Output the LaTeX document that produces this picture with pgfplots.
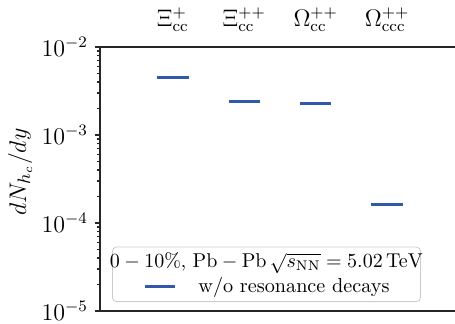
\documentclass[border=0pt]{standalone}
\usepackage{pgfplots}
\pgfplotsset{compat=1.18}
\definecolor{segblue}{RGB}{50,88,168}
\begin{document}
\begin{tikzpicture}
\begin{axis}[
  name=ax, at={(0,0)}, anchor=south west,
  scale only axis, width=177.5pt, height=132pt,
  ymode=log, ymin=1e-5, ymax=1e-2,
  xmin=-1.02, xmax=3.95,
  axis y line*=left,
  axis line style={line width=0.8pt, black!85},
  xtick={0,1,2,3},
  xticklabels={$\Xi_{\mathrm{cc}}^{+}$,$\Xi_{\mathrm{cc}}^{++}$,$\Omega_{\mathrm{cc}}^{++}$,$\Omega_{\mathrm{ccc}}^{++}$},
  xticklabel pos=upper,
  x tick style={draw=none},
  xticklabel style={font=\fontsize{11.5}{13}\selectfont, yshift=1.5pt},
  ytick={1e-5,1e-4,1e-3,1e-2},
  ytick pos=left,
  tick align=outside,
  major tick length=2.5pt, minor tick length=1.5pt,
  y tick style={line width=0.6pt, black!85},
  yticklabel style={font=\fontsize{11.8}{13}\selectfont},
  ylabel={$dN_{h_c}/dy$},
  ylabel style={at={(axis description cs:-0.225,0.527)}, anchor=center, font=\fontsize{13}{15}\selectfont},
  legend style={at={(rel axis cs:0.034,0.034)}, anchor=south west,
    draw=black!20, rounded corners=2pt, fill=white,
    font=\fontsize{10.1}{12}\selectfont, inner xsep=0pt, inner ysep=1.2pt, row sep=0pt,
    column sep=0pt, nodes={inner xsep=1.5pt, inner ysep=1.7pt}},
  legend cell align=left,
  legend image code/.code={\draw[#1, overlay] (16.5pt,0pt) -- (31.5pt,0pt);},
]
\addlegendimage{empty legend}
\addlegendentry{\makebox[151pt][c]{\fontsize{9.6}{11}\selectfont$0-10\%$, $\mathrm{Pb}-\mathrm{Pb}\,\sqrt{s_{\mathrm{NN}}}=5.02\,\mathrm{TeV}$}}
\addplot[segblue, line width=1.5pt] coordinates {(-0.22,4.48e-3) (0.22,4.48e-3)};
\addlegendentry{\makebox[151pt][l]{\hspace*{41.5pt}w/o resonance decays}}
\addplot[segblue, line width=1.5pt, forget plot] coordinates {(0.78,2.41e-3) (1.22,2.41e-3)};
\addplot[segblue, line width=1.5pt, forget plot] coordinates {(1.78,2.27e-3) (2.22,2.27e-3)};
\addplot[segblue, line width=1.5pt, forget plot] coordinates {(2.78,1.61e-4) (3.22,1.61e-4)};
\end{axis}
\pgfresetboundingbox
\path ([xshift=-50pt,yshift=-6pt]ax.south west) rectangle ([yshift=23.5pt]ax.north east);
\end{tikzpicture}
\end{document}
